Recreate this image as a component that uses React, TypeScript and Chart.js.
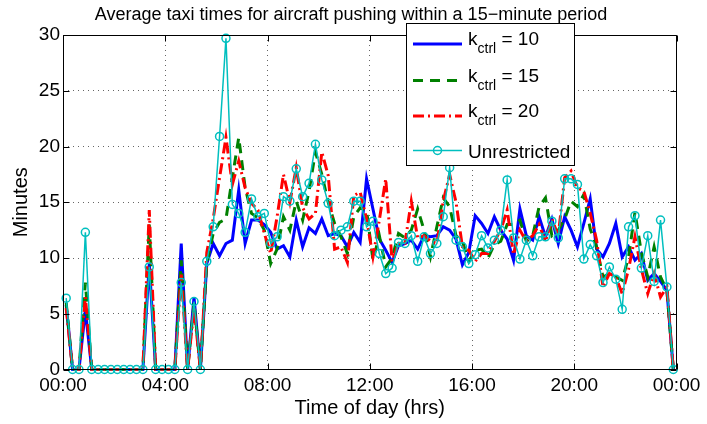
import React, { useEffect, useRef } from "react";
import { Chart, registerables } from "chart.js";

Chart.register(...registerables);

const TITLE = "Average taxi times for aircraft pushing within a 15\u2212minute period";
const X_TITLE = "Time of day (hrs)";
const Y_TITLE = "Minutes";
const SLOT_HOURS = 0.25;
const X_MIN = 0;
const X_MAX = 24;
const X_STEP = 4;
const Y_MIN = 0;
const Y_MAX = 30;
const Y_STEP = 5;

const LABELS = ["k_ctrl = 10", "k_ctrl = 15", "k_ctrl = 20", "Unrestricted"];

const K10 = [
  5.8, 0, 0, 5.3, 0, 0, 0, 0, 0, 0, 0, 0, 0, 9.5, 0, 0, 0, 0, 11.3, 0, 6.5, 0, 9.5, 11.3,
  10.2, 11.3, 11.6, 16.1, 11.3, 13.4, 13.4, 13.0, 12.3, 10.8, 11.1, 10.1, 13.4, 11.0, 12.7, 12.2,
  13.5, 12.0, 12.2, 12.0, 11.0, 12.3, 11.4, 17.1, 14.4, 11.7, 10.7, 9.6, 11.1, 11.3, 11.6, 10.8,
  12.0, 11.9, 12.0, 12.8, 12.5, 11.7, 9.4, 10.5, 13.8, 13.1, 12.2, 13.7, 12.5, 11.7, 9.8, 14.4,
  12.0, 11.6, 13.7, 11.9, 13.5, 11.3, 13.7, 12.5, 11.0, 13.1, 15.3, 10.8, 10.1, 11.3, 13.1, 10.1,
  11.0, 9.8, 10.4, 8.0, 8.6, 7.9, 7.1, 0,
];

const K15 = [
  6.0, 0, 0, 7.8, 0, 0, 0, 0, 0, 0, 0, 0, 0, 13.0, 0, 0, 0, 0, 9.8, 0, 6.0, 0, 9.5, 12.2,
  13.2, 13.5, 17.2, 20.8, 16.3, 14.0, 13.6, 12.5, 9.5, 10.8, 13.7, 12.5, 15.1, 13.4, 16.0, 19.5,
  17.5, 15.0, 13.1, 11.9, 10.4, 13.7, 14.5, 14.3, 9.8, 12.0, 9.2, 10.0, 12.2, 11.8, 12.5, 14.4,
  12.5, 10.1, 12.8, 15.4, 14.6, 12.0, 11.5, 9.7, 10.7, 10.8, 10.0, 11.2, 11.5, 13.0, 13.0, 13.4,
  11.5, 12.0, 14.6, 15.4, 12.0, 12.5, 13.5, 15.1, 14.6, 15.7, 12.6, 11.0, 8.3, 8.6, 8.3, 8.0,
  10.1, 14.1, 10.5, 8.3, 11.0, 8.3, 7.1, 0,
];

const K20 = [
  5.5, 0, 0, 6.5, 0, 0, 0, 0, 0, 0, 0, 0, 0, 14.3, 0, 0, 0, 0, 8.5, 0, 5.5, 0, 10.5, 13.5,
  17.2, 20.8, 16.6, 18.7, 16.3, 14.9, 14.3, 12.2, 10.4, 13.7, 17.5, 15.0, 18.1, 14.5, 13.5, 14.0,
  19.5, 17.4, 10.8, 11.0, 9.6, 15.6, 15.9, 13.5, 10.1, 13.4, 17.1, 9.7, 11.3, 11.3, 15.1, 11.8,
  12.0, 11.5, 11.3, 15.1, 17.5, 15.0, 11.0, 10.7, 9.7, 10.4, 10.4, 11.5, 12.5, 14.3, 10.3, 12.5,
  11.5, 12.0, 13.0, 11.5, 13.5, 12.0, 17.2, 17.8, 16.3, 16.0, 14.0, 11.6, 7.4, 8.6, 8.3, 6.8,
  9.0, 11.9, 9.0, 6.8, 8.6, 6.5, 7.4, 0,
];

const UNRESTRICTED = [
  6.4, 0, 0, 12.3, 0, 0, 0, 0, 0, 0, 0, 0, 0, 9.2, 0, 0, 0, 0, 7.8, 0, 6.1, 0, 9.7, 12.8,
  20.9, 29.7, 14.8, 14.0, 12.3, 15.3, 13.7, 14.0, 11.3, 11.9, 15.5, 15.1, 18.0, 15.5, 16.7, 20.2,
  17.0, 14.9, 12.0, 12.5, 12.8, 15.1, 15.1, 12.8, 13.3, 10.4, 8.6, 9.1, 11.4, 11.3, 12.0, 9.7,
  11.9, 10.4, 11.3, 13.7, 18.1, 11.6, 11.0, 9.5, 10.3, 12.0, 10.9, 11.6, 12.5, 17.0, 11.8, 9.9,
  11.6, 10.2, 11.9, 11.9, 13.3, 11.8, 17.1, 17.1, 16.6, 9.9, 11.2, 10.2, 7.8, 9.2, 8.1, 5.4,
  12.8, 13.8, 9.1, 12.0, 7.9, 13.4, 7.4, 0,
];

const FONT = "'Liberation Sans', Arial, Helvetica, sans-serif";

function toPoints(values: number[]) {
  return values.map((v, i) => ({ x: (i + 0.5) * SLOT_HOURS, y: v }));
}

function hourLabel(v: number) {
  const h = Math.round(v) % 24;
  return (h < 10 ? "0" : "") + h + ":00";
}

const framePlugin = {
  id: "frame",
  afterDatasetsDraw(chart: any) {
    const { ctx, chartArea: a, scales } = chart;
    ctx.save();
    ctx.strokeStyle = "#000";
    ctx.lineWidth = 1;
    const L = Math.round(a.left) + 0.5;
    const R = Math.round(a.right) - 0.5;
    const T = Math.round(a.top) + 0.5;
    const B = Math.round(a.bottom) - 0.5;
    ctx.beginPath();
    ctx.rect(L, T, R - L, B - T);
    ctx.stroke();
    const tl = 6;
    ctx.beginPath();
    for (let v = Y_MIN; v <= Y_MAX; v += Y_STEP) {
      const y = Math.round(scales.y.getPixelForValue(v)) + 0.5;
      ctx.moveTo(L, y);
      ctx.lineTo(L + tl, y);
      ctx.moveTo(R, y);
      ctx.lineTo(R - tl, y);
    }
    for (let v = X_MIN; v <= X_MAX; v += X_STEP) {
      const x = Math.round(scales.x.getPixelForValue(v)) + 0.5;
      ctx.moveTo(x, B);
      ctx.lineTo(x, B - tl);
      ctx.moveTo(x, T);
      ctx.lineTo(x, T + tl);
    }
    ctx.stroke();
    ctx.restore();
  },
  afterDraw(chart: any) {
    const { ctx } = chart;
    ctx.save();
    // title
    ctx.fillStyle = "#000";
    ctx.font = `18px ${FONT}`;
    ctx.textAlign = "center";
    ctx.textBaseline = "alphabetic";
    ctx.fillText(TITLE, 351, 20);

    // legend
    const bx = 406.5, by = 23.5, bw = 168, bh = 142;
    ctx.fillStyle = "#fff";
    ctx.fillRect(bx, by, bw, bh);
    ctx.strokeStyle = "#000";
    ctx.lineWidth = 1;
    ctx.strokeRect(bx, by, bw, bh);
    const rowY = [44, 80.5, 116, 150.5];
    chart.data.datasets.forEach((ds: any, i: number) => {
      const y = rowY[i];
      ctx.save();
      ctx.strokeStyle = ds.borderColor;
      ctx.lineWidth = ds.borderWidth;
      ctx.setLineDash(ds.borderDash || []);
      ctx.beginPath();
      ctx.moveTo(413, y);
      ctx.lineTo(462, y);
      ctx.stroke();
      ctx.setLineDash([]);
      if (ds.pointRadius > 0) {
        ctx.beginPath();
        ctx.lineWidth = ds.pointBorderWidth;
        ctx.strokeStyle = ds.pointBorderColor;
        ctx.arc(437.5, y, ds.pointRadius, 0, Math.PI * 2);
        ctx.stroke();
      }
      ctx.restore();
      ctx.fillStyle = "#000";
      ctx.textAlign = "left";
      ctx.textBaseline = "alphabetic";
      const label: string = ds.label;
      let x = 468;
      const us = label.indexOf("_");
      if (us >= 0) {
        const main = label.slice(0, us);
        const rest = label.slice(us + 1);
        const sp = rest.indexOf(" ");
        const sub = rest.slice(0, sp);
        const tail = rest.slice(sp);
        ctx.font = `19px ${FONT}`;
        ctx.fillText(main, x, y + 1);
        x += ctx.measureText(main).width;
        ctx.font = `14px ${FONT}`;
        ctx.fillText(sub, x, y + 9);
        x += ctx.measureText(sub).width;
        ctx.font = `19px ${FONT}`;
        ctx.fillText(tail, x, y + 1);
      } else {
        ctx.font = `19px ${FONT}`;
        ctx.fillText(label, x, y + 7);
      }
    });
    ctx.restore();
  },
};

export default function App() {
  const ref = useRef<HTMLCanvasElement | null>(null);
  useEffect(() => {
    document.body.style.margin = "0";
    const canvas = ref.current;
    if (!canvas) return;
    const chart = new Chart(canvas, {
      type: "line",
      data: {
        datasets: [
          {
            label: LABELS[0],
            data: toPoints(K10),
            borderColor: "#0000ff",
            borderWidth: 3,
            pointRadius: 0,
            order: 4,
            clip: false,
          },
          {
            label: LABELS[1],
            data: toPoints(K15),
            borderColor: "#008000",
            borderWidth: 3,
            borderDash: [10, 7],
            pointRadius: 0,
            order: 3,
            clip: false,
          },
          {
            label: LABELS[2],
            data: toPoints(K20),
            borderColor: "#ff0000",
            borderWidth: 3,
            borderDash: [11, 4, 2, 4],
            pointRadius: 0,
            order: 2,
            clip: false,
          },
          {
            label: LABELS[3],
            data: toPoints(UNRESTRICTED),
            borderColor: "#00bfbf",
            borderWidth: 1.5,
            pointRadius: 4,
            pointBorderWidth: 1.5,
            pointBorderColor: "#00bfbf",
            pointBackgroundColor: "rgba(0,0,0,0)",
            order: 1,
            clip: false,
          },
        ] as any,
      },
      options: {
        animation: false,
        responsive: false,
        maintainAspectRatio: false,
        layout: { padding: { top: 35, right: 30.5, left: 0, bottom: 0 } },
        plugins: {
          legend: { display: false },
          title: { display: false },
          tooltip: { enabled: false },
        },
        elements: { line: { tension: 0 } },
        scales: {
          x: {
            type: "linear",
            min: X_MIN,
            max: X_MAX,
            afterFit: (s: any) => {
              s.height = 54.5;
            },
            afterBuildTicks: (s: any) => {
              const t = [];
              for (let v = X_MIN; v <= X_MAX; v += X_STEP) t.push({ value: v });
              s.ticks = t;
            },
            ticks: {
              color: "#000",
              font: { family: FONT, size: 19 },
              padding: 5,
              maxRotation: 0,
              autoSkip: false,
              callback: (v: any) => hourLabel(Number(v)),
            },
            grid: {
              color: "rgba(0,0,0,0.6)",
              lineWidth: 1,
              drawTicks: false,
            },
            border: { display: false, dash: [1, 4] },
            title: {
              display: true,
              text: X_TITLE,
              color: "#000",
              font: { family: FONT, size: 20 },
              padding: { top: 0, bottom: 4 },
            },
          } as any,
          y: {
            min: Y_MIN,
            max: Y_MAX,
            afterFit: (s: any) => {
              s.width = 63;
            },
            ticks: {
              stepSize: Y_STEP,
              color: "#000",
              font: { family: FONT, size: 19 },
              padding: 3,
            },
            grid: {
              color: "rgba(0,0,0,0.6)",
              lineWidth: 1,
              drawTicks: false,
            },
            border: { display: false, dash: [1, 4] },
            title: {
              display: true,
              text: Y_TITLE,
              color: "#000",
              font: { family: FONT, size: 20 },
              padding: { top: 9.5, bottom: 0 },
            },
          } as any,
        },
      },
      plugins: [framePlugin],
    });
    return () => chart.destroy();
  }, []);
  return (
    <div style={{ width: 707, height: 424 }}>
      <canvas ref={ref} width={707} height={424} style={{ display: "block" }} />
    </div>
  );
}
